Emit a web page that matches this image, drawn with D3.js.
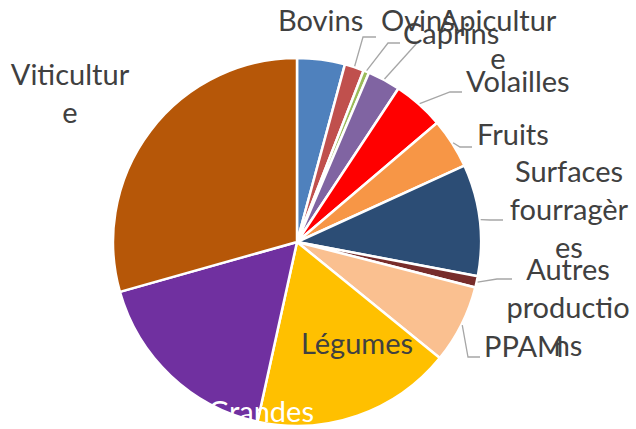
<!DOCTYPE html>
<html>
<head>
<meta charset="utf-8">
<script src="https://cdn.jsdelivr.net/npm/d3@7"></script>
<style>
  body { margin: 0; background: #fff; }
  svg text { font-family: Lato, "Open Sans", sans-serif; }
</style>
</head>
<body>
<div class="chart"></div>
<script>
// data (share of each production, %)
const categories = [
  "Bovins", "Ovins", "Caprins", "Apiculture", "Volailles", "Fruits",
  "Surfaces fourragères", "Autres productions", "PPAM", "Légumes",
  "Grandes cultures", "Viticulture"
];
const values = [4.2, 1.7, 0.5, 2.9, 4.5, 4.4, 9.8, 1.0, 6.9, 17.6, 17.2, 29.4];
const colors = [
  "#4f81bd", "#c0504d", "#9bbb59", "#8064a2", "#ff0000", "#f79646",
  "#2c4d75", "#772c2a", "#fac090", "#ffc000", "#7030a0", "#b65708"
];

// label layout: text lines, position, anchor, leader elbow/end (null = no leader)
const labelLines = [
  ["Bovins"], ["Ovins"], ["Caprins"], ["Apicultur", "e"], ["Volailles"], ["Fruits"],
  ["Surfaces", "fourragèr", "es"], ["Autres", "productio", "ns"], ["PPAM"], ["Légumes"],
  ["Grandes"], ["Viticultur", "e"]
];
const labelPos = [
  [278, 31, "start"], [381, 31, "start"], [403, 44, "start"], [498, 31, "middle"],
  [466, 92, "start"], [477, 145, "start"], [569, 182, "middle"], [568, 280, "middle"],
  [484, 357, "start"], [357, 354, "middle"], [261, 422, "middle"], [70, 85, "middle"]
];
const leaders = [
  null, [[363, 37], [376, 37]], [[388, 43], [400, 43]], [[417, 43], [417, 43]],
  [[450, 92], [462, 92]], [[460, 147], [472, 147]], [[490, 220], [503, 220]],
  [[497, 279], [512, 279]], [[468, 357], [480, 357]], null, null, null
];
const labelFill = categories.map((c) => (c === "Grandes cultures" ? "#ffffff" : "#404040"));

const width = 636;
const height = 429;
const cx = 297;
const cy = 242;
const radius = 184;
const lineHeight = 38;

const svg = d3
  .select(".chart")
  .append("svg")
  .attr("width", width)
  .attr("height", height);

const pie = d3.pie().sort(null).value((d) => d);
const arcs = pie(values);
const arc = d3.arc().innerRadius(0).outerRadius(radius);

const g = svg.append("g").attr("transform", "translate(" + cx + "," + cy + ")");

g.selectAll("path")
  .data(arcs)
  .enter()
  .append("path")
  .attr("d", arc)
  .attr("fill", (d, i) => colors[i])
  .attr("stroke", "#fff")
  .attr("stroke-width", 2.5)
  .attr("stroke-linejoin", "round");

// leader lines from the slice edge
const edge = d3.arc().innerRadius(radius + 1).outerRadius(radius + 1);
arcs.forEach((d, i) => {
  if (!leaders[i]) return;
  const c = edge.centroid(d);
  const pts = [[cx + c[0], cy + c[1]], leaders[i][0], leaders[i][1]];
  svg
    .append("path")
    .attr("d", d3.line()(pts))
    .attr("fill", "none")
    .attr("stroke", "#a6a6a6")
    .attr("stroke-width", 1.3);
});

// labels
labelLines.forEach((lines, i) => {
  const [x, y, anchor] = labelPos[i];
  const t = svg
    .append("text")
    .attr("x", x)
    .attr("y", y)
    .attr("text-anchor", anchor)
    .attr("fill", labelFill[i])
    .style("font-size", "29px");
  lines.forEach((l, j) => {
    t.append("tspan")
      .attr("x", x)
      .attr("y", y + j * lineHeight)
      .text(l);
  });
});
</script>
</body>
</html>
